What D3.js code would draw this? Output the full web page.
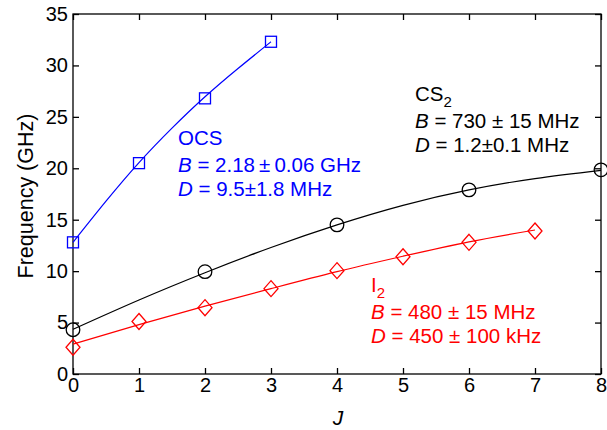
<!DOCTYPE html>
<html lang="en">
<head>
    <meta charset="utf-8">
    <title>Rotational frequencies</title>
    <script type="text/javascript" src="https://cdn.jsdelivr.net/npm/d3@7"></script>
    <style>
        body { margin: 0; background: #fff; }
        text { font-family: "Liberation Sans", Arial, Helvetica, sans-serif; }
    </style>
</head>
<body>
<script type="text/javascript">
    // measured points (J, GHz)
    var ocsJ = [0, 1, 2, 3];
    var ocsFreq = [12.8, 20.5, 26.8, 32.3];
    var cs2J = [0, 2, 4, 6, 8];
    var cs2Freq = [4.3, 9.95, 14.5, 17.9, 19.85];
    var i2J = [0, 1, 2, 3, 4, 5, 6, 7];
    var i2Freq = [2.6, 5.1, 6.45, 8.3, 10.05, 11.4, 12.8, 13.9];

    // fitted curves
    var ocsFitJ = [0, 0.5, 1, 1.5, 2, 2.5, 3];
    var ocsFit = [12.8, 16.8, 20.55, 23.9, 26.95, 29.7, 32.3];
    var cs2FitJ = [0, 1, 2, 3, 4, 5, 6, 7, 8];
    var cs2Fit = [4.35, 7.2, 9.85, 12.3, 14.5, 16.4, 17.9, 19.0, 19.8];
    var i2FitJ = [0, 1, 2, 3, 4, 5, 6, 7];
    var i2Fit = [2.9, 4.8, 6.6, 8.3, 9.95, 11.45, 12.85, 14.0];

    var xTicks = [0, 1, 2, 3, 4, 5, 6, 7, 8];
    var yTicks = [0, 5, 10, 15, 20, 25, 30, 35];

    var width = 607, height = 430;
    var plotLeft = 73, plotRight = 601, plotTop = 14, plotBottom = 374;
    var fs = 20, fsNote = 20.5;

    var svg = d3.select("body").append("svg").attr("width", width).attr("height", height);
    var x = d3.scaleLinear().domain([0, 8]).range([plotLeft, plotRight]);
    var y = d3.scaleLinear().domain([0, 35]).range([plotBottom, plotTop]);

    function pairs(xs, ys) { return xs.map(function (d, i) { return [d, ys[i]]; }); }

    // axes, ticks pointing inward
    svg.append("g").attr("transform", "translate(0," + plotBottom + ")")
        .call(d3.axisBottom(x).tickValues(xTicks).tickSizeInner(-6).tickSizeOuter(0).tickPadding(4));
    svg.append("g").attr("transform", "translate(" + plotLeft + ",0)")
        .call(d3.axisLeft(y).tickValues(yTicks).tickSizeInner(-6).tickSizeOuter(0).tickPadding(5));
    svg.append("g").attr("transform", "translate(0," + plotTop + ")")
        .call(d3.axisTop(x).tickValues(xTicks).tickSizeInner(-6).tickSizeOuter(0).tickFormat(""));
    svg.append("g").attr("transform", "translate(" + plotRight + ",0)")
        .call(d3.axisRight(y).tickValues(yTicks).tickSizeInner(-6).tickSizeOuter(0).tickFormat(""));
    svg.selectAll(".domain").remove();
    svg.selectAll(".tick line").attr("stroke", "#000").attr("stroke-width", 1.3);
    svg.selectAll(".tick text").attr("font-size", fs).attr("font-family", "Liberation Sans, Arial, sans-serif").attr("fill", "#000");
    svg.append("rect").attr("x", plotLeft).attr("y", plotTop).attr("width", plotRight - plotLeft).attr("height", plotBottom - plotTop)
        .attr("fill", "none").attr("stroke", "#000").attr("stroke-width", 1.3);

    svg.append("text").text("Frequency (GHz)").attr("transform", "translate(33," + ((plotTop + plotBottom) / 2 + 2) + ") rotate(-90)")
        .attr("text-anchor", "middle").attr("font-size", 21.5);
    svg.append("text").text("J").attr("x", (plotLeft + plotRight) / 2 + 1).attr("y", 425)
        .attr("text-anchor", "middle").attr("font-size", 21).attr("font-style", "italic");

    var line = d3.line().x(function (d) { return x(d[0]); }).y(function (d) { return y(d[1]); }).curve(d3.curveNatural);

    svg.append("path").attr("d", line(pairs(ocsFitJ, ocsFit))).attr("fill", "none").attr("stroke", "#0000ff").attr("stroke-width", 1.2);
    svg.append("path").attr("d", line(pairs(cs2FitJ, cs2Fit))).attr("fill", "none").attr("stroke", "#000").attr("stroke-width", 1.2);
    svg.append("path").attr("d", line(pairs(i2FitJ, i2Fit))).attr("fill", "none").attr("stroke", "#ff0000").attr("stroke-width", 1.2);

    // markers
    svg.selectAll("rect.ocs").data(pairs(ocsJ, ocsFreq)).enter().append("rect").attr("class", "ocs")
        .attr("x", function (d) { return x(d[0]) - 5.5; }).attr("y", function (d) { return y(d[1]) - 5.5; })
        .attr("width", 11).attr("height", 11).attr("fill", "none").attr("stroke", "#0000ff").attr("stroke-width", 1.3);
    svg.selectAll("circle.cs2").data(pairs(cs2J, cs2Freq)).enter().append("circle").attr("class", "cs2")
        .attr("cx", function (d) { return x(d[0]); }).attr("cy", function (d) { return y(d[1]); })
        .attr("r", 6.8).attr("fill", "none").attr("stroke", "#000").attr("stroke-width", 1.3);
    svg.selectAll("path.i2").data(pairs(i2J, i2Freq)).enter().append("path").attr("class", "i2")
        .attr("d", function (d) {
            var cx = x(d[0]), cy = y(d[1]);
            return "M" + cx + "," + (cy - 8) + "L" + (cx + 7) + "," + cy + "L" + cx + "," + (cy + 8) + "L" + (cx - 7) + "," + cy + "Z";
        })
        .attr("fill", "none").attr("stroke", "#ff0000").attr("stroke-width", 1.3);

    // annotations
    function label(x0, y0, color, name, sub, bText, dText) {
        var t = svg.append("text").attr("x", x0).attr("y", y0).attr("font-size", fsNote).attr("fill", color);
        t.append("tspan").text(name);
        if (sub) t.append("tspan").text(sub).attr("dy", 6).attr("font-size", 15);
        var b = svg.append("text").attr("x", x0).attr("y", y0 + 27).attr("font-size", fsNote).attr("fill", color);
        b.append("tspan").text("B").attr("font-style", "italic");
        b.append("tspan").text(bText);
        var dd = svg.append("text").attr("x", x0).attr("y", y0 + 51).attr("font-size", fsNote).attr("fill", color);
        dd.append("tspan").text("D").attr("font-style", "italic");
        dd.append("tspan").text(dText);
    }
    label(178, 145, "#0000ff", "OCS", null, " = 2.18\u2009\u00b1\u20090.06 GHz", " = 9.5\u00b11.8 MHz");
    label(415, 101, "#000", "CS", "2", " = 730 \u00b1 15 MHz", " = 1.2\u00b10.1 MHz");
    label(371, 292, "#ff0000", "I", "2", " = 480 \u00b1 15 MHz", " = 450 \u00b1 100 kHz");
</script>
</body>
</html>
